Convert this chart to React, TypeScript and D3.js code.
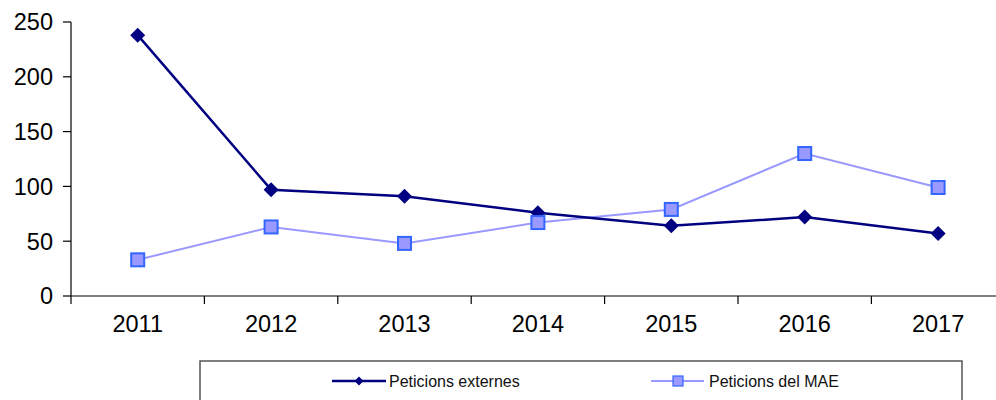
import * as d3 from "d3";
import React from "react";

const years = ["2011", "2012", "2013", "2014", "2015", "2016", "2017"];
const externes = [238, 97, 91, 76, 64, 72, 57];
const mae = [33, 63, 48, 67, 79, 130, 99];
const yTicks = [0, 50, 100, 150, 200, 250];

const W = 996;
const H = 400;
const left = 71;
const band = 133.4;
const top = 22;
const bottom = 296;

const App = () => {
  const x = d3
    .scaleBand()
    .domain(years)
    .range([left, left + band * years.length])
    .paddingInner(0)
    .paddingOuter(0);
  const y = d3.scaleLinear().domain([0, 250]).range([bottom, top]);
  const cx = (yr) => x(yr) + x.bandwidth() / 2;

  const line = d3
    .line()
    .x((d, i) => cx(years[i]))
    .y((d) => y(d));

  const diamond = (s) => `M0,${-s}L${s},0L0,${s}L${-s},0Z`;
  const boundaries = years.map((yr) => x(yr)).concat([x.range()[1]]);

  return (
    <svg
      width={W}
      height={H}
      style={{ position: "absolute", left: 0, top: 0, background: "#fff" }}
      fontFamily="'Liberation Sans', Arial, sans-serif"
    >
      {/* y axis */}
      <line x1={left} x2={left} y1={top} y2={bottom} stroke="#000" strokeWidth={1.2} />
      {yTicks.map((t) => (
        <g key={t}>
          <line x1={left - 8} x2={left} y1={y(t)} y2={y(t)} stroke="#000" strokeWidth={1.2} />
          <text x={53} y={y(t)} dy="0.36em" textAnchor="end" fontSize={23.5} fill="#000">
            {t}
          </text>
        </g>
      ))}

      {/* x axis */}
      <line x1={left} x2={x.range()[1]} y1={bottom} y2={bottom} stroke="#000" strokeWidth={1.2} />
      {boundaries.map((b, i) => (
        <line key={i} x1={b} x2={b} y1={bottom} y2={bottom + 8} stroke="#000" strokeWidth={1.2} />
      ))}
      {years.map((yr) => (
        <text key={yr} x={cx(yr)} y={332} textAnchor="middle" fontSize={23.5} fill="#000">
          {yr}
        </text>
      ))}

      {/* series: MAE */}
      <path d={line(mae)} fill="none" stroke="#9999ff" strokeWidth={2} />
      {/* series: externes */}
      <path d={line(externes)} fill="none" stroke="#000080" strokeWidth={2.5} />
      {externes.map((v, i) => (
        <path key={"e" + i} d={diamond(7.5)} transform={`translate(${cx(years[i])},${y(v)})`} fill="#000080" />
      ))}
      {mae.map((v, i) => (
        <rect
          key={"m" + i}
          x={cx(years[i]) - 6.5}
          y={y(v) - 6.5}
          width={13}
          height={13}
          fill="#9999ff"
          stroke="#3366ff"
          strokeWidth={2}
        />
      ))}

      {/* legend */}
      <rect x={200} y={361} width={762} height={60} fill="#fff" stroke="#555" strokeWidth={1.5} />
      <line x1={332} x2={386} y1={381} y2={381} stroke="#000080" strokeWidth={2.5} />
      <path d={diamond(4.5)} transform="translate(359,381)" fill="#000080" />
      <text x={389} y={381} dy="0.35em" fontSize={16} fill="#111">
        Peticions externes
      </text>
      <line x1={651} x2={704} y1={381} y2={381} stroke="#9999ff" strokeWidth={2} />
      <rect x={673} y={376} width={10} height={10} fill="#9999ff" stroke="#3366ff" strokeWidth={1.2} />
      <text x={709} y={381} dy="0.35em" fontSize={16} fill="#111">
        Peticions del MAE
      </text>
    </svg>
  );
};

export default App;
